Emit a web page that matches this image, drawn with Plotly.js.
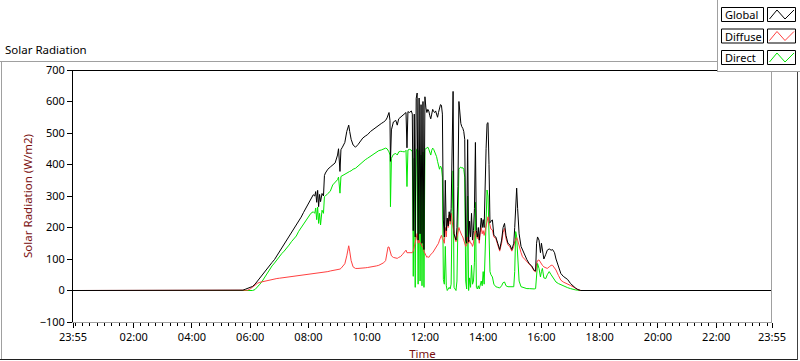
<!DOCTYPE html>
<html><head><meta charset="utf-8">
<script src="https://cdn.plot.ly/plotly-3.0.1.min.js"></script>
<style>html,body{margin:0;padding:0;background:#fff;overflow:hidden}#chart{width:800px;height:361px}</style>
</head><body><div id="chart"></div>
<script>
// Time of each sample (first entry is 23:55 of the previous day)
const times = ["23:55","05:40","05:45","05:50","05:55","06:00","06:05","06:10","06:15","06:20","06:25","06:30","06:35","06:40","06:45","06:50","06:55",
"07:00","07:05","07:10","07:15","07:20","07:25","07:30","07:35","07:40","07:45","07:50","07:55",
"08:00","08:05","08:10","08:13","08:15","08:17","08:19","08:21","08:23","08:25","08:28","08:31","08:33","08:35","08:40","08:45","08:50","08:55",
"09:00","09:02","09:05","09:07","09:10","09:15","09:19","09:21","09:23","09:25","09:28","09:32","09:37","09:42","09:47","09:52","09:57",
"10:02","10:08","10:14","10:20","10:25","10:30","10:35","10:39","10:42","10:44","10:46","10:48","10:49","10:51","10:55",
"11:00","11:03","11:06","11:10","11:14","11:18","11:21","11:23","11:25","11:28","11:32","11:34","11:36","11:38","11:40","11:42","11:44","11:46","11:48","11:50","11:52","11:54","11:56","11:58",
"12:00","12:02","12:04","12:06","12:08","12:10","12:12","12:14","12:16","12:18","12:20","12:22","12:24","12:26","12:28","12:30","12:32","12:34","12:36","12:38","12:40","12:42","12:44","12:46","12:48","12:50","12:52","12:54","12:56","12:58",
"13:00","13:02","13:04","13:06","13:08","13:10","13:12","13:14","13:16","13:18","13:20","13:22","13:24","13:26","13:28","13:30","13:32","13:34","13:36","13:38","13:40","13:42","13:44","13:46","13:48","13:50","13:52","13:54","13:56","13:58",
"14:00","14:02","14:04","14:06","14:08","14:10","14:12","14:14","14:16","14:19","14:22","14:26","14:30","14:34","14:38","14:41","14:44","14:47","14:51","14:55","14:59",
"15:03","15:05","15:07","15:09","15:11","15:14","15:18","15:21","15:25","15:30","15:35","15:40","15:45","15:48","15:50","15:52","15:55","15:58",
"16:00","16:02","16:05","16:09","16:12","16:16","16:20","16:23","16:27","16:30","16:35","16:40","16:45","16:50","16:54",
"17:00","17:05","17:10","17:15","17:21","23:55"];

const globalW = [0,0,1,4,7,10,13,20,30,42,52,62,72,82,89,98,110,
122,134,146,157,170,183,195,207,220,233,248,262,
277,290,304,300,314,280,318,266,305,282,308,300,365,373,385,392,400,405,
430,450,378,447,455,470,505,520,525,505,480,462,455,463,475,484,490,
495,505,512,520,527,530,535,540,548,558,565,540,410,510,535,
540,525,545,550,555,560,565,453,568,565,570,560,190,560,170,610,627,160,611,180,590,150,600,130,
615,580,565,575,570,555,545,560,575,568,565,570,560,550,565,575,590,588,560,224,170,350,190,230,205,250,220,260,500,632,
180,170,160,200,330,600,560,530,520,515,505,480,160,150,479,155,220,170,245,160,190,260,470,190,170,200,160,210,230,200,
225,200,350,450,530,533,400,215,220,224,175,170,150,130,160,200,213,175,150,145,130,
150,200,300,325,260,180,140,128,112,98,85,78,64,62,150,170,160,120,
150,125,100,115,128,132,128,130,120,100,75,54,45,40,35,
22,14,8,3,0,0];

const diffuseW = [0,0,0,0,1,5,12,18,23,26,28,30,32,34,35,37,38,
39,40,41,42,43,44,45,47,48,49,50,51,
52,53,54,54,55,55,55,55,56,56,56,57,57,58,60,62,63,65,
66,67,68,70,75,85,110,135,142,125,95,75,70,70,70,71,72,
73,74,76,78,80,83,88,95,115,138,138,125,118,110,105,
103,102,105,108,115,125,128,120,120,118,118,120,125,140,160,170,181,150,160,150,150,140,140,125,
118,110,105,108,105,110,115,118,120,125,128,135,140,145,150,160,170,175,165,160,150,200,170,224,200,240,210,245,220,200,
170,165,155,175,190,200,190,180,175,170,160,150,140,145,170,150,160,150,150,140,150,180,190,175,165,180,150,185,200,180,
190,175,190,210,225,234,220,200,195,192,170,165,145,125,150,185,197,165,145,139,125,
140,155,165,168,160,140,120,107,100,92,82,75,62,59,85,95,97,88,
85,80,75,72,70,75,80,80,72,65,48,33,27,24,22,
16,12,7,3,0,0];

const directW = [0,0,0,0,0,0,0,3,10,20,30,42,56,66,78,87,98,
108,117,125,133,144,155,164,173,188,200,210,222,
236,245,250,245,262,225,265,213,245,208,255,245,298,300,308,315,335,342,
352,360,309,362,365,370,372,375,378,378,380,385,388,395,404,410,415,
420,426,431,438,444,446,448,452,450,445,440,430,266,420,432,
435,430,440,442,441,440,445,330,446,448,446,440,45,420,10,440,450,20,445,30,430,15,440,10,
448,450,452,455,448,440,430,445,452,448,440,435,425,410,400,385,395,390,360,35,20,140,15,0,5,10,5,20,250,380,
10,5,0,30,180,385,390,392,388,390,385,360,30,5,300,0,40,10,80,20,30,90,280,10,5,15,5,20,30,15,
60,20,120,220,319,300,180,60,50,43,20,12,10,8,15,25,27,15,12,12,10,
12,60,187,170,110,30,12,10,8,6,6,5,5,6,60,86,70,43,
60,70,40,38,50,60,50,43,35,27,22,18,15,12,9,
6,3,2,1,0,0];

const seriesNames = ["Global","Diffuse","Direct"];
const seriesColors = ["#000000","#ff4040","#00e600"];
const tickTimes = ["23:55","02:00","04:00","06:00","08:00","10:00","12:00","14:00","16:00","18:00","20:00","22:00","23:55"];
const yTickVals = [-100,0,100,200,300,400,500,600,700];

function stamp(t, i) { return (i === 0 ? "2024-01-01 " : "2024-01-02 ") + t; }
const xDates = times.map(stamp);
const tickDates = tickTimes.map(stamp);

const seriesData = [globalW, diffuseW, directW];
// draw Direct first, Global last (on top)
const order = [2, 1, 0];
const traces = order.map(k => ({
  type: "scatter", mode: "lines", name: seriesNames[k],
  x: xDates, y: seriesData[k],
  line: {color: seriesColors[k], width: 1, shape: "linear"},
  hoverinfo: "skip", showlegend: false
}));

// pixel -> paper helpers (plot area: x 73..772, y 70..322)
const L = 73, R = 28, T = 70, B = 39, W = 800, H = 361;
const PW = W - L - R, PH = H - T - B;
const px = x => (x - L) / PW;
const py = y => (H - B - y) / PH;

const shapes = [];
const annotations = [];
function line(x0, y0, x1, y1, color) {
  shapes.push({type: "line", xref: "paper", yref: "paper", x0: px(x0), y0: py(y0), x1: px(x1), y1: py(y1),
    line: {color: color, width: 1}, layer: "above"});
}
// plot border: top black, right gray
line(L, T + 0.5, W - R, T + 0.5, "#000000");
line(W - R - 0.5, T, W - R - 0.5, H - B, "#a0a0a0");
// outer frame
line(0, 61.5, 717, 61.5, "#a0a0a0");
line(1.5, 61, 1.5, 359, "#a0a0a0");
line(0, 359.5, 798, 359.5, "#202020");
line(797.5, 72, 797.5, 360, "#404040");
// legend panel
shapes.push({type: "rect", xref: "paper", yref: "paper", x0: px(717), y0: py(72), x1: px(800), y1: py(-1),
  fillcolor: "#ffffff", line: {width: 0}, layer: "above"});
line(717.5, 0, 717.5, 72, "#a0a0a0");
line(717, 71.5, 800, 71.5, "#a0a0a0");
const rowCenters = [14.5, 36, 57.5];
seriesNames.forEach((name, i) => {
  const cy = rowCenters[i];
  shapes.push({type: "rect", xref: "paper", yref: "paper", x0: px(721.5), y0: py(cy + 7), x1: px(763.5), y1: py(cy - 7),
    fillcolor: "#ffffff", line: {color: "#000000", width: 1}, layer: "above"});
  shapes.push({type: "rect", xref: "paper", yref: "paper", x0: px(767.5), y0: py(cy + 7), x1: px(795.5), y1: py(cy - 7),
    fillcolor: "#ffffff", line: {color: "#000000", width: 1}, layer: "above"});
  const pts = [[769.5, cy + 4.5], [777, cy - 4.5], [785, cy + 4.5], [794, cy - 4.5]];
  const path = pts.map((p, j) => (j ? "L" : "M") + px(p[0]).toFixed(5) + "," + py(p[1]).toFixed(5)).join(" ");
  shapes.push({type: "path", xref: "paper", yref: "paper", path: path,
    line: {color: seriesColors[i], width: 1}, layer: "above"});
  annotations.push({xref: "paper", yref: "paper", x: px(723), y: py(cy), xanchor: "left", yanchor: "middle",
    text: name, showarrow: false, font: {family: "Noto Sans", size: 11, color: "#000000"}});
});

const layout = {
  width: W, height: H,
  margin: {l: L, r: R, t: T, b: B, pad: 0},
  paper_bgcolor: "#ffffff", plot_bgcolor: "#ffffff",
  font: {family: "Noto Sans", size: 11, color: "#000000"},
  title: {text: "Solar Radiation", xref: "container", yref: "container", x: 5 / W, xanchor: "left",
    y: 1 - 50 / H, yanchor: "middle", font: {family: "Noto Sans", size: 11.5, color: "#000000"}, pad: {t: 0, b: 0, l: 0, r: 0}},
  showlegend: false,
  xaxis: {
    type: "date", range: [tickDates[0], tickDates[tickDates.length - 1]],
    tickmode: "array", tickvals: tickDates, ticktext: tickTimes,
    ticks: "outside", ticklen: 5, tickcolor: "#000000", tickwidth: 1,
    minor: {dtick: 15 * 60 * 1000, tick0: "2024-01-02 00:00", ticks: "outside", ticklen: 3, tickcolor: "#000000", tickwidth: 1, showgrid: false},
    showgrid: false, zeroline: false, showline: true, linecolor: "#a0a0a0", linewidth: 1,
    tickfont: {family: "Noto Sans", size: 11, color: "#000000"},
    title: {text: "Time", standoff: 6, font: {family: "Noto Sans", size: 11.5, color: "#7a1010"}},
    fixedrange: true
  },
  yaxis: {
    range: [-100, 700], tickmode: "array", tickvals: yTickVals,
    ticks: "outside", ticklen: 5, tickcolor: "#000000", tickwidth: 1,
    showgrid: false, zeroline: false, showline: true, linecolor: "#000000", linewidth: 1,
    tickfont: {family: "Noto Sans", size: 11, color: "#000000"},
    title: {text: "Solar Radiation (W/m2)", standoff: 4, font: {family: "Noto Sans", size: 11.5, color: "#7a1010"}},
    fixedrange: true
  },
  shapes: shapes,
  annotations: annotations
};

Plotly.newPlot("chart", traces, layout, {displayModeBar: false, staticPlot: true});
</script></body></html>
